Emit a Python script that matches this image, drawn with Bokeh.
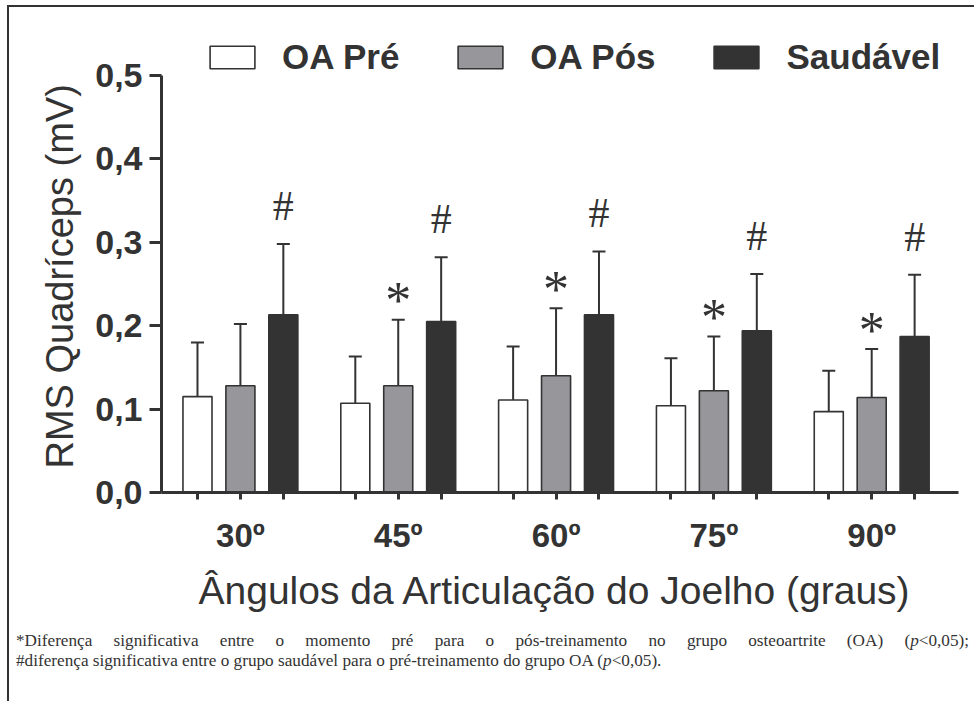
from bokeh.plotting import figure
from bokeh.models import (ColumnDataSource, Whisker, TeeHead, Legend, LegendItem,
                          FixedTicker, CustomJSTickFormatter, Div, Title)
from bokeh.layouts import column
from bokeh.embed import file_html
from bokeh.resources import INLINE
from bokeh.core.properties import value

# ---------------- data ----------------
angles = ["30º", "45º", "60º", "75º", "90º"]
series = ["OA Pré", "OA Pós", "Saudável"]

oa_pre = [0.115, 0.107, 0.111, 0.104, 0.097]
oa_pre_sd = [0.065, 0.056, 0.064, 0.057, 0.049]

oa_pos = [0.128, 0.128, 0.140, 0.122, 0.114]
oa_pos_sd = [0.074, 0.079, 0.081, 0.065, 0.058]

saudavel = [0.213, 0.205, 0.213, 0.194, 0.187]
saudavel_sd = [0.085, 0.077, 0.076, 0.068, 0.074]

star_mark = ["", "*", "*", "*", "*"]      # pre vs pos (OA)
hash_mark = ["#", "#", "#", "#", "#"]     # saudável vs pre

y_ticks = [0.0, 0.1, 0.2, 0.3, 0.4, 0.5]

y_title = "RMS Quadríceps (mV)"
x_title = "Ângulos da Articulação do Joelho (graus)"
caption_1 = ("*Diferença significativa entre o momento pré para o pós-treinamento "
             "no grupo osteoartrite (OA) (<i>p</i>&lt;0,05);")
caption_2 = ("#diferença significativa entre o grupo saudável para o pré-treinamento "
             "do grupo OA (<i>p</i>&lt;0,05).")

# ---------------- style ----------------
INK = "#333333"
fills = ["#ffffff", "#97979b", "#333333"]
offsets = [-0.272, 0.0, 0.272]
bar_w = 0.184
SANS = "Liberation Sans"
SERIF = "Liberation Serif"

p = figure(width=957, height=615, x_range=(-0.5, 4.55), y_range=(0, 0.548),
           output_backend="svg", toolbar_location=None,
           min_border_left=152, min_border_right=8, min_border_top=28,
           min_border_bottom=130)
p.grid.visible = False
p.outline_line_color = None
p.background_fill_color = "white"
p.border_fill_color = "white"

values = [oa_pre, oa_pos, saudavel]
sds = [oa_pre_sd, oa_pos_sd, saudavel_sd]
renderers = []
tick_pos = []
for k in range(3):
    xs = [i + offsets[k] for i in range(len(angles))]
    tick_pos += xs
    src = ColumnDataSource(dict(x=xs, top=values[k],
                                upper=[v + s for v, s in zip(values[k], sds[k])]))
    w = Whisker(source=src, base="x", lower="top", upper="upper", dimension="height",
                lower_head=None,
                upper_head=TeeHead(size=13, line_width=2, line_color=INK),
                line_width=2, line_color=INK, level="underlay")
    p.add_layout(w)
    r = p.vbar(x="x", top="top", width=bar_w, source=src, fill_color=fills[k],
               line_color=INK, line_width=1.6)
    renderers.append(r)

# significance marks
x_pos = [i + offsets[1] for i in range(len(angles))]
x_sau = [i + offsets[2] for i in range(len(angles))]
up_pos = [v + s for v, s in zip(oa_pos, oa_pos_sd)]
up_sau = [v + s for v, s in zip(saudavel, saudavel_sd)]
p.text(x=x_pos, y=up_pos, text=star_mark, text_font=value(SERIF),
       text_font_size="52px", text_align="center", text_baseline="middle",
       y_offset=-19, text_color=INK)
p.text(x=x_sau, y=up_sau, text=hash_mark, text_font=value(SERIF),
       text_font_size="42px", text_align="center", text_baseline="middle",
       y_offset=-38, text_color=INK)

# axes
for ax in (p.xaxis[0], p.yaxis[0]):
    ax.axis_line_width = 3
    ax.axis_line_color = INK
    ax.major_tick_line_width = 3
    ax.major_tick_line_color = INK
    ax.minor_tick_line_color = None
    ax.major_tick_in = 0
    ax.major_label_text_font = SANS
    ax.major_label_text_font_style = "bold"
    ax.major_label_text_color = INK

p.yaxis.ticker = FixedTicker(ticks=y_ticks)
p.yaxis.bounds = (0, 0.5)
p.yaxis.formatter = CustomJSTickFormatter(code="return tick.toFixed(1).replace('.', ',');")
p.yaxis.major_tick_out = 12
p.yaxis.major_label_text_font_size = "34px"
p.yaxis.major_label_standoff = 7

p.xaxis.ticker = FixedTicker(ticks=sorted(tick_pos))
p.xaxis.formatter = CustomJSTickFormatter(
    args=dict(labels=angles),
    code="const i = Math.round(tick); return Math.abs(tick - i) < 1e-6 ? labels[i] : '';")
p.xaxis.major_tick_out = 7
p.xaxis.major_label_text_font_size = "33px"
p.xaxis.major_label_standoff = 17

# axis titles (as side-panel titles so they can be placed like the original)
p.add_layout(Title(text=y_title, align="left", offset=24, standoff=24,
                   text_font=SANS, text_font_style="normal", text_font_size="38px",
                   text_color=INK), "left")
p.add_layout(Title(text=x_title, align="left", offset=37, standoff=21,
                   text_font=SANS, text_font_style="normal", text_font_size="39px",
                   text_color=INK), "below")

legend = Legend(items=[LegendItem(label=s, renderers=[r]) for s, r in zip(series, renderers)],
                orientation="horizontal", location=(43, 415),
                glyph_width=56, glyph_height=28, label_standoff=22, spacing=53,
                padding=0, margin=0, border_line_color=None, background_fill_alpha=0,
                label_text_font=SANS, label_text_font_style="bold",
                label_text_font_size="35px", label_text_color=INK)
p.add_layout(legend, "center")

cap_html = (
    f'<div style="font-family:\'{SERIF}\';font-size:17.2px;line-height:20px;color:{INK};'
    f'width:955px;padding-left:2px;padding-top:4px;">'
    f'<div style="text-align:justify;text-align-last:justify;">{caption_1}</div>'
    f'<div>{caption_2}</div></div>'
)
cap = Div(text=cap_html, width=957, height=76)

# thin frame lines on the top and left of the whole figure (as in the source page)
layout = column(p, cap, styles={"margin-left": "9px", "margin-top": "7px",
                                "box-shadow": "-2px -2px 0 0 #333"})

open("out.html", "w").write(file_html(layout, INLINE))
